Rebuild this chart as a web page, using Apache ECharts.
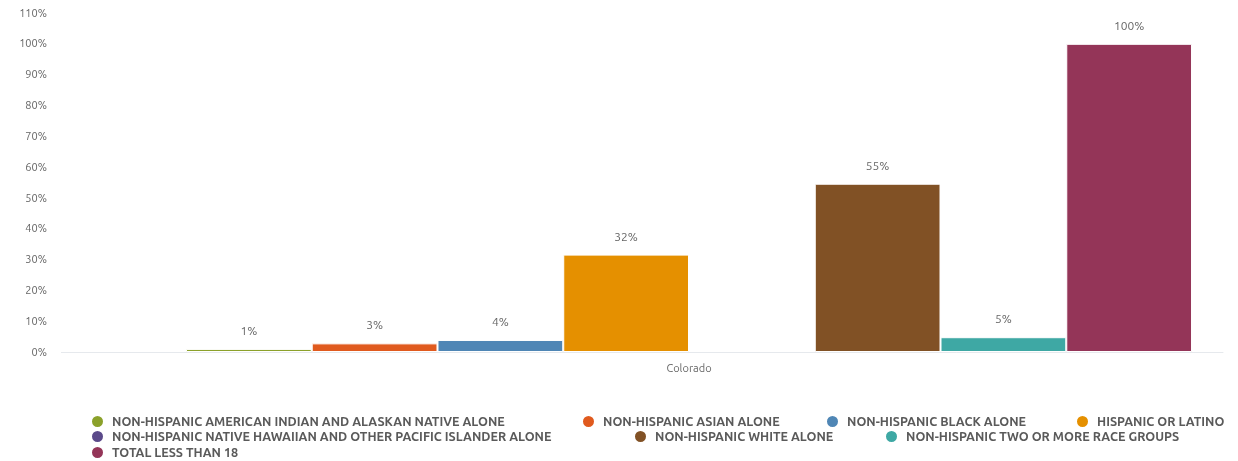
<!DOCTYPE html>
<html><head><meta charset="utf-8">
<script src="https://cdn.jsdelivr.net/npm/echarts@6/dist/echarts.min.js"></script>
<style>html,body{margin:0;padding:0;background:#fff}#c{width:1238px;height:461px}</style>
</head><body><div id="c"></div>
<script>
const categories = ['Colorado'];
const seriesNames = [
  'NON-HISPANIC AMERICAN INDIAN AND ALASKAN NATIVE ALONE',
  'NON-HISPANIC ASIAN ALONE',
  'NON-HISPANIC BLACK ALONE',
  'HISPANIC OR LATINO',
  'NON-HISPANIC NATIVE HAWAIIAN AND OTHER PACIFIC ISLANDER ALONE',
  'NON-HISPANIC WHITE ALONE',
  'NON-HISPANIC TWO OR MORE RACE GROUPS',
  'TOTAL LESS THAN 18'
];
const seriesValues = [1.0, 2.8, 3.9, 31.6, null, 54.6, 4.8, 100];
const seriesColors = ['#8ba12a','#e05a1e','#4f86b5','#e59000','#5b4a8a','#815125','#3ea8a4','#943558'];
const yTicks = {min: 0, max: 110, interval: 10};
// legend placement: [left, top] per series
const legendSpots = [[90,414],[581,414],[825,414],[1075,414],[90,429],[633,429],[884,429],[90,445]];

const chart = echarts.init(document.getElementById('c'), null, {renderer: 'canvas'});
const font = "Ubuntu, 'Open Sans', 'Noto Sans', sans-serif";
const series = seriesNames.map((n, i) => ({
  name: n,
  type: 'bar',
  data: [seriesValues[i]],
  barGap: '0%',
  barCategoryGap: '5.8%',
  itemStyle: {color: seriesColors[i], borderColor: '#fff', borderWidth: 1},
  label: {
    show: seriesValues[i] != null,
    position: 'top',
    distance: 12,
    color: '#666',
    fontSize: 12,
    fontFamily: font,
    formatter: p => Math.round(p.value) + '%'
  }
}));
const legends = seriesNames.map((n, i) => ({
  left: legendSpots[i][0], top: legendSpots[i][1], padding: 0,
  icon: 'circle', itemWidth: 13, itemHeight: 13,
  textStyle: {color: '#5a5a5a', fontSize: 12.6, fontWeight: 'bold', fontFamily: font, padding: [0, 0, 0, 3]},
  data: [n]
}));
chart.setOption({
  animation: false,
  textStyle: {fontFamily: font},
  grid: {left: 155, right: 15, top: 13, bottom: 109},
  legend: legends,
  xAxis: {
    type: 'category', data: categories,
    axisLine: {lineStyle: {color: '#e6e9ed'}},
    axisTick: {show: false},
    axisLabel: {color: '#666', fontSize: 11, margin: 11, fontFamily: font}
  },
  yAxis: {
    type: 'value', min: yTicks.min, max: yTicks.max, interval: yTicks.interval,
    splitLine: {show: false},
    axisLine: {show: false}, axisTick: {show: false},
    axisLabel: {color: '#666', fontSize: 11, margin: 108, fontFamily: font, formatter: v => v + '%'}
  },
  series: series
});
const y0 = chart.convertToPixel({yAxisIndex: 0}, 0);
chart.setOption({graphic: [{type: 'line', shape: {x1: 61, y1: y0 + 0.5, x2: 155, y2: y0 + 0.5}, style: {stroke: '#e6e9ed', lineWidth: 1}, silent: true}]});
</script></body></html>
